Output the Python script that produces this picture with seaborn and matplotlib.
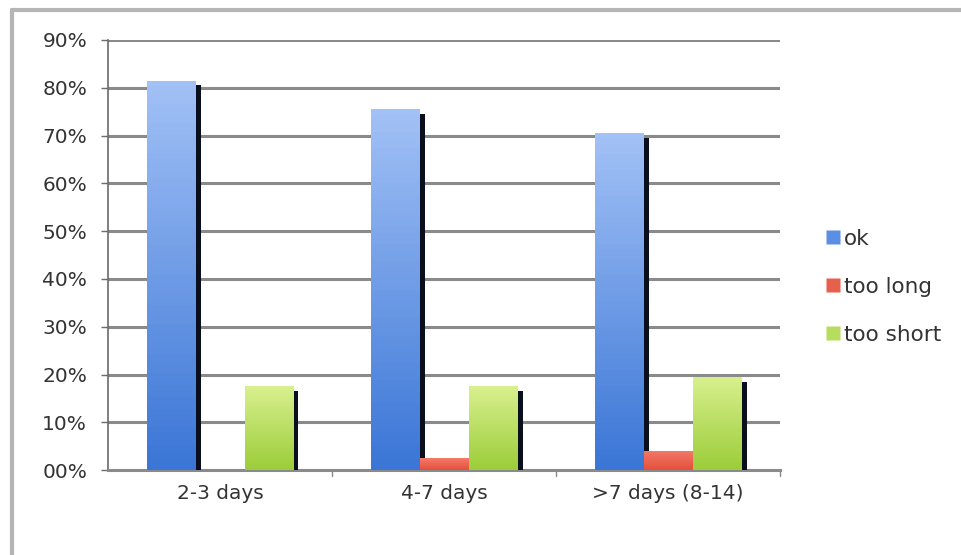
import numpy as np
import pandas as pd
import matplotlib
matplotlib.use("Agg")
import matplotlib.pyplot as plt
import matplotlib.patheffects as pe
from matplotlib.colors import LinearSegmentedColormap
from matplotlib.lines import Line2D
import seaborn as sns

categories = ["2-3 days", "4-7 days", ">7 days (8-14)"]
series = ["ok", "too long", "too short"]
ok_vals = [81.5, 75.5, 70.5]
too_long_vals = [0.0, 2.5, 4.0]
too_short_vals = [17.5, 17.5, 19.5]
tick_values = [0, 10, 20, 30, 40, 50, 60, 70, 80, 90]
tick_labels = ["00%", "10%", "20%", "30%", "40%", "50%", "60%", "70%", "80%", "90%"]

df = pd.DataFrame({
    "period": categories * 3,
    "answer": [s for s in series for _ in categories],
    "share": ok_vals + too_long_vals + too_short_vals,
})

# top / bottom colours of each series' vertical gradient
grad = {
    "ok": ("#a2c1f6", "#3b76d6"),
    "too long": ("#f47a6a", "#e4503c"),
    "too short": ("#d8f08e", "#9ccd3a"),
}
base = {"ok": "#5b8fe6", "too long": "#e8604c", "too short": "#b6dd5c"}

sns.set_theme(style="white")
plt.rcParams["font.family"] = ["DejaVu Sans"]

fig = plt.figure(figsize=(9.61, 5.55), dpi=100)
ax = fig.add_axes([0.1124, 0.153, 0.6993, 0.775])

sns.barplot(data=df, x="period", y="share", hue="answer", order=categories,
            hue_order=series, palette=base, width=0.656, gap=0, ax=ax,
            legend=False, errorbar=None, saturation=1, zorder=3)

# gradient fill and dark right-hand shadow for every bar
for container, name in zip(ax.containers, series):
    cmap = LinearSegmentedColormap.from_list(name, [grad[name][1], grad[name][0]])
    for bar in container:
        h = bar.get_height()
        if h <= 0:
            bar.set_visible(False)
            continue
        x0 = bar.get_x()
        w = bar.get_width()
        bar.set_path_effects([
            pe.SimplePatchShadow(offset=(3.6, -3.4), shadow_rgbFace="#0a0f1e", alpha=1.0),
            pe.Normal(),
        ])
        img = ax.imshow(np.linspace(0, 1, 64).reshape(-1, 1), cmap=cmap,
                        extent=(x0, x0 + w, 0, h), origin="lower", aspect="auto",
                        zorder=3.5)
        img.set_clip_path(bar)
        bar.set_edgecolor("none")

ax.set_aspect("auto")
ax.set_ylim(0, 90)
ax.set_xlim(-0.5, 2.5)

ax.set_yticks(tick_values)
ax.set_yticklabels(tick_labels, fontsize=14.5, color="#333333")
ax.set_xticks(range(len(categories)))
ax.set_xticklabels(categories, fontsize=14.5, color="#333333")
ax.set_xlabel("")
ax.set_ylabel("")

for y in tick_values[1:]:
    ax.axhline(y, color="#8a8a8a", lw=2.2, zorder=1)

for s in ["top", "right"]:
    ax.spines[s].set_visible(False)
ax.spines["left"].set_color("#6a6a6a")
ax.spines["left"].set_linewidth(1.2)
ax.spines["bottom"].set_color("#8a8a8a")
ax.spines["bottom"].set_linewidth(2.2)

ax.tick_params(axis="y", length=5, width=1, color="#6a6a6a", pad=10, left=True)
ax.tick_params(axis="x", length=0, pad=10)
# category boundary ticks
for xb in [0.5, 1.5, 2.5]:
    ax.plot([xb, xb], [0, -1.3], color="#8a8a8a", lw=1, clip_on=False, zorder=2)

handles = [Line2D([0], [0], marker="s", linestyle="none", markersize=10,
                  markerfacecolor=base[s], markeredgecolor="none") for s in series]
fig.legend(handles, series, loc="center left", bbox_to_anchor=(0.859, 0.483),
           frameon=False, fontsize=15.5, handletextpad=0.15, labelspacing=1.3,
           handlelength=0.7, borderpad=0, borderaxespad=0,
           labelcolor="#333333")

# outer chart frame
fig.add_artist(plt.Line2D([0.012, 0.012], [0.0, 0.982], color="#b5b5b5", lw=3,
                          transform=fig.transFigure))
fig.add_artist(plt.Line2D([0.012, 1.0], [0.982, 0.982], color="#b5b5b5", lw=3,
                          transform=fig.transFigure))

fig.savefig("out.png", dpi=100)
